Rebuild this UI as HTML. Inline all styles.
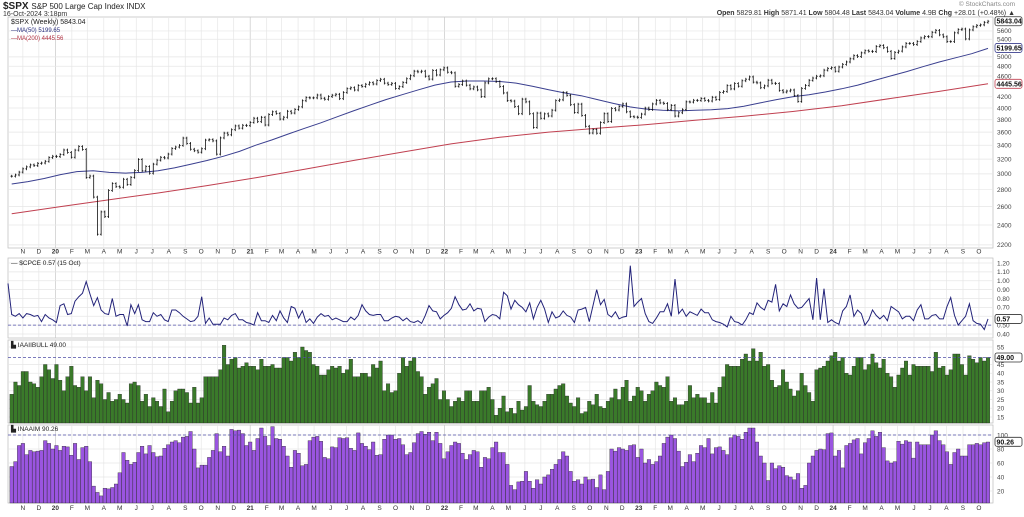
<!DOCTYPE html>
<html><head><meta charset="utf-8"><style>
body{margin:0;background:#fff;width:1024px;height:512px;overflow:hidden;font-family:"Liberation Sans",sans-serif}
svg text{font-family:"Liberation Sans",sans-serif}
</style></head><body>
<svg id="c" width="1024" height="512" viewBox="0 0 1024 512" xmlns="http://www.w3.org/2000/svg">
<text x="3" y="9" font-size="10" font-weight="bold" fill="#222">$SPX <tspan font-weight="normal" font-size="8">S&amp;P 500 Large Cap Index INDX</tspan></text>
<text x="3" y="16" font-size="7" fill="#333">16-Oct-2024 3:18pm</text>
<text x="1015" y="6" font-size="6.5" fill="#888" text-anchor="end">© StockCharts.com</text>
<text x="1015" y="15" font-size="7" fill="#333" text-anchor="end"><tspan font-weight="bold">Open</tspan> 5829.81 <tspan font-weight="bold">High</tspan> 5871.41 <tspan font-weight="bold">Low</tspan> 5804.48 <tspan font-weight="bold">Last</tspan> 5843.04 <tspan font-weight="bold">Volume</tspan> 4.9B <tspan font-weight="bold">Chg</tspan> +28.01 (+0.48%) ▲</text>
<g id="grid"></g><g id="marks"></g><g id="labels"></g>
</svg>
<script>
const spxClose=[2970,2986,3023,3067,3093,3120,3110,3141,3146,3169,3221,3240,
3235,3265,3330,3295,3226,3328,3380,3338,2954,2972,2711,2305,2541,2489,2790,2875,2837,2830,2930,2864,2955,3044,3194,3041,3097,3009,3130,3185,3225,3216,3271,3351,3373,3397,3508,3427,3341,3319,3298,3348,3477,3484,3465,3270,3510,3585,3558,3638,3699,3663,3709,3703,3756,
3825,3768,3841,3714,3887,3934,3907,3811,3842,3943,3913,3975,4020,4129,4185,4180,4181,4233,4174,4156,4204,4230,4247,4166,4281,4352,4370,4327,4412,4395,4437,4468,4442,4509,4535,4459,4433,4455,4357,4391,4471,4545,4605,4698,4683,4698,4595,4538,4712,4621,4726,4766,
4677,4663,4398,4432,4501,4419,4349,4385,4329,4204,4463,4543,4546,4488,4393,4272,4132,4123,4024,3901,4158,4109,3901,3675,3912,3825,3899,3863,3962,4130,4145,4280,4228,4058,3924,4068,3873,3693,3586,3640,3583,3753,3901,3771,3993,3965,4026,4072,3934,3852,3845,3840,
3895,3999,3973,4071,4136,4090,4079,3970,4046,3862,3917,3971,4109,4105,4137,4133,4169,4136,4124,4192,4151,4282,4299,4410,4348,4450,4399,4505,4536,4582,4478,4464,4370,4406,4516,4457,4450,4320,4288,4308,4327,4224,4117,4358,4415,4514,4559,4595,4604,4719,4755,4770,
4697,4784,4840,4891,4959,5027,5006,5089,5137,5124,5117,5234,5254,5204,5123,4967,5100,5128,5223,5303,5305,5278,5347,5432,5465,5460,5567,5615,5505,5459,5346,5344,5554,5634,5648,5408,5626,5703,5738,5751,5815,5843];
const ma50=[2870,2900,2940,2990,3030,3040,3020,3010,3020,3040,3080,3130,3180,3240,3310,3400,3480,3570,3660,3750,3850,3950,4050,4150,4240,4330,4420,4480,4500,4500,4490,4460,4400,4330,4270,4220,4150,4080,4020,3980,3960,3950,3960,3970,3990,4030,4090,4150,4200,4240,4290,4350,4420,4510,4600,4690,4790,4890,4980,5070,5190];
const ma200=[2520,2600,2680,2760,2850,2950,3060,3180,3300,3420,3520,3600,3660,3720,3790,3860,3940,4040,4170,4300,4445];
const cpce=[0.97,0.62,0.60,0.63,0.58,0.63,0.62,0.60,0.61,0.54,0.62,0.58,
0.56,0.53,0.72,0.74,0.62,0.63,0.77,0.82,0.86,0.99,0.85,0.72,0.81,0.67,0.63,0.62,0.80,0.60,0.62,0.62,0.49,0.73,0.63,0.73,0.56,0.54,0.54,0.64,0.60,0.62,0.56,0.54,0.67,0.67,0.64,0.60,0.57,0.54,0.55,0.60,0.82,0.52,0.58,0.51,0.51,0.51,0.58,0.56,0.61,0.63,0.56,0.56,0.53,
0.52,0.50,0.64,0.55,0.55,0.53,0.61,0.55,0.66,0.58,0.53,0.71,0.69,0.58,0.66,0.53,0.57,0.52,0.59,0.63,0.60,0.61,0.56,0.58,0.56,0.54,0.54,0.59,0.56,0.61,0.73,0.66,0.62,0.61,0.62,0.62,0.55,0.55,0.58,0.60,0.59,0.55,0.58,0.54,0.53,0.55,0.52,0.61,0.72,0.66,0.65,0.57,
0.61,0.64,0.69,0.82,0.73,0.67,0.68,0.74,0.66,0.69,0.68,0.54,0.59,0.62,0.61,0.57,0.87,0.83,0.68,0.78,0.73,0.70,0.65,0.75,0.57,0.70,0.78,0.68,0.53,0.65,0.58,0.60,0.66,0.61,0.59,0.53,0.67,0.68,0.70,0.54,0.72,0.90,0.73,0.79,0.62,0.59,0.65,0.57,0.59,0.60,1.17,0.71,
0.76,0.80,0.63,0.54,0.52,0.58,0.65,0.65,0.74,0.60,1.02,0.63,0.68,0.60,0.65,0.63,0.61,0.68,0.64,0.64,0.56,0.54,0.53,0.51,0.48,0.60,0.54,0.53,0.50,0.56,0.64,0.62,0.75,0.70,0.67,0.78,0.76,0.96,0.66,0.74,0.71,0.84,0.74,0.69,0.70,0.75,0.80,0.56,1.03,0.56,
0.91,0.53,0.56,0.53,0.51,0.66,0.71,0.84,0.60,0.67,0.63,0.50,0.56,0.67,0.61,0.57,0.61,0.55,0.71,0.68,0.65,0.57,0.60,0.60,0.55,0.67,0.73,0.57,0.57,0.61,0.62,0.57,0.57,0.71,0.81,0.61,0.50,0.55,0.60,0.74,0.55,0.52,0.51,0.45,0.57];
const aaii=[28,35,33,41,41,35,34,32,38,45,42,37,
45,36,30,38,44,33,32,38,30,38,26,36,34,25,29,24,25,28,25,23,34,35,33,24,28,21,26,24,21,31,18,24,30,31,31,29,23,32,23,26,38,38,38,38,42,56,45,48,49,43,44,46,44,
44,42,48,44,44,45,43,43,49,49,47,52,49,55,53,52,45,44,39,39,42,44,43,44,40,42,48,38,38,40,40,38,45,43,47,30,34,29,30,40,49,44,47,49,41,38,28,32,34,37,25,30,
25,21,24,26,24,30,30,24,24,30,30,32,25,16,20,27,18,20,17,24,19,21,33,24,22,21,24,28,28,31,33,34,27,23,21,26,17,18,24,22,28,21,20,24,26,31,25,32,36,24,27,32,
30,24,28,30,35,33,32,38,24,26,22,22,24,33,26,28,26,26,23,29,23,32,38,45,44,44,44,48,51,47,54,47,52,44,45,36,32,33,42,35,31,27,30,40,33,29,24,42,43,44,47,50,
52,47,49,40,39,44,49,49,42,45,51,46,43,48,40,38,32,39,43,47,39,45,44,44,44,44,41,52,43,44,39,42,51,51,45,39,50,48,46,49,47,49];
const naaim=[55,62,85,88,72,78,76,77,78,92,88,80,85,78,
84,83,71,88,65,82,84,62,27,18,13,24,23,25,30,46,75,64,58,61,75,84,73,85,75,69,70,81,86,90,92,89,97,98,105,80,53,57,57,68,78,102,76,84,70,108,106,107,102,85,90,78,95,
110,98,85,112,95,94,84,70,54,78,74,56,58,92,97,98,91,68,66,83,82,96,95,96,81,78,103,88,84,79,90,71,72,94,100,100,94,95,86,72,75,89,102,105,101,104,92,104,88,66,76,85,
90,88,74,65,72,78,76,54,68,66,82,90,75,75,58,28,22,33,34,48,34,24,36,30,40,43,51,58,65,76,70,48,34,36,30,40,36,37,25,43,22,48,80,77,82,80,78,85,86,68,80,
60,65,58,62,70,88,97,100,95,77,55,61,72,62,74,85,82,95,73,82,83,78,72,96,100,98,94,104,110,110,90,70,60,35,60,52,56,54,42,40,36,45,24,28,60,70,78,80,79,102,103,
70,78,53,85,88,93,95,73,89,95,106,98,104,82,63,60,62,91,87,92,90,67,90,86,86,86,100,106,92,86,76,58,75,80,70,70,86,86,88,86,89,90];
const monthLabels=['N','D','20','F','M','A','M','J','J','A','S','O','N','D','21','F','M','A','M','J','J','A','S','O','N','D','22','F','M','A','M','J','J','A','S','O','N','D','23','F','M','A','M','J','J','A','S','O','N','D','24','F','M','A','M','J','J','A','S','O'];
const spxTicks=[5600,5400,5000,4800,4600,4200,4000,3800,3600,3400,3200,3000,2800,2600,2400,2200];
const cpceTicks=[1.2,1.1,1.0,0.9,0.8,0.7,0.6,0.5,0.4];
const aaiiTicks=[55,45,40,35,30,25,20,15];
const naaimTicks=[100,80,60,40,20];

const NS='http://www.w3.org/2000/svg';
const svg=document.getElementById('c'),G=document.getElementById('grid'),M=document.getElementById('marks'),L=document.getElementById('labels');
function mk(t,a,p){const e=document.createElementNS(NS,t);for(const k in a)e.setAttribute(k,a[k]);(p||M).appendChild(e);return e;}
const N=spxClose.length, X0=11.7, DX=(988-X0)/(N-1), L0=8, R0=993;
const xw=i=>X0+DX*i;
const xEnd=(arr,i)=>xw(N-arr.length+i);
const yS=v=>108-229*Math.log(v/4000);
const yC=v=>334-(v-0.4)*88.75;
const yA=v=>417-(v-15)*1.75;
const yN=v=>491-(v-20)*0.70;
const panels=[[17,248],[258,338],[340,423],[425,503]];
// panel frames
panels.forEach((p,k)=>{const r=mk('rect',{x:L0,y:p[0],width:R0-L0,height:p[1]-p[0],fill:'#fff',stroke:'#bbb','stroke-width':0.7},G);

});
// months
const start=new Date(2019,9,11);
monthLabels.forEach((lab,m)=>{const d=new Date(2019,10+m,1);const days=(d-start)/864e5;const x=X0+DX*days/7;
panels.forEach(p=>{const ln=mk('line',{x1:x,x2:x,y1:p[0],y2:p[1],stroke:lab.length>1?'#c8c8c8':'#e6e6e6','stroke-width':0.7},G);

});
[253.5,510].forEach(yy=>{const t=mk('text',{x:x,y:yy,'font-size':6.5,'text-anchor':'middle',fill:'#333','font-weight':lab.length>1?'bold':'normal'},L);t.textContent=lab;

});});
function hticks(ticks,fy,p,fmt,nm){ticks.forEach(v=>{const y=fy(v);const ln=mk('line',{x1:L0,x2:R0,y1:y,y2:y,stroke:'#e6e6e6','stroke-width':0.7},G);


const t=mk('text',{x:997,y:y+2.3,'font-size':6.5,fill:'#444'},L);t.textContent=fmt(v);

});}
hticks(spxTicks,yS,0,v=>v,'spx-y');
hticks(cpceTicks,yC,1,v=>v.toFixed(2),'cpce-y');
hticks(aaiiTicks,yA,2,v=>v,'aaii-y');
hticks(naaimTicks,yN,3,v=>v,'naaim-y');
// MA lines
function monthlyLine(arr,color,nm){const pts=arr.map((v,i)=>{const step=(N-1)/(arr.length-1);return (X0+DX*i*step).toFixed(1)+','+yS(v).toFixed(1);}).join(' ');
const e=mk('polyline',{points:pts,fill:'none',stroke:color,'stroke-width':1});

}
monthlyLine(ma200,'#c04050','ma200-line');
monthlyLine(ma50,'#3a3f8f','ma50-line');
// price bars
spxClose.forEach((c,i)=>{const p=i?spxClose[i-1]:c;const hi=Math.max(p,c)*1.006,lo=Math.min(p,c)*0.994;const x=xw(i);
const g=mk('g',{stroke:'#111','stroke-width':0.8});


mk('line',{x1:x,x2:x,y1:yS(hi),y2:yS(lo)},g);mk('line',{x1:x-1.2,x2:x,y1:yS(p),y2:yS(p)},g);mk('line',{x1:x,x2:x+1.2,y1:yS(c),y2:yS(c)},g);});
// CPCE
const dl=(y,nm)=>{const e=mk('line',{x1:L0,x2:R0,y1:y,y2:y,stroke:'#5050a8','stroke-width':0.8,'stroke-dasharray':'3,2'});

};
dl(yC(0.5),'cpce-reference-line');
const cp=mk('polyline',{points:cpce.map((v,i)=>xEnd(cpce,i).toFixed(1)+','+yC(v).toFixed(1)).join(' '),fill:'none',stroke:'#23237a','stroke-width':1});


// bars
function bars(arr,fy,bot,fill,nm){arr.forEach((v,i)=>{const x=xEnd(arr,i);const y=fy(v);
const r=mk('rect',{x:x-1.8,y:y,width:3.6,height:bot-y,fill:fill,stroke:'#222','stroke-width':0.35});

});}
bars(aaii,yA,423,'#3a7a2a','aaii-bull-bar');
dl(yA(49),'aaii-reference-line');
bars(naaim,yN,503,'#9a55e0','naaim-bar');
dl(yN(100),'naaim-reference-line');
// legends
function txt(x,y,s,col,nm,fs){const t=mk('text',{x:x,y:y,'font-size':fs||6.5,fill:col,'font-family':'Liberation Mono, monospace'},L);t.textContent=s;

}
txt(11,24,'$SPX (Weekly) 5843.04','#222','spx-legend',7);
txt(11,32,'—MA(50) 5199.65','#2a2f7f','ma50-legend',6);
txt(11,40,'—MA(200) 4445.56','#b03040','ma200-legend',6);
txt(11,265,'— $CPCE 0.57 (15 Oct)','#222','cpce-legend');
txt(11,347,'▙ IAAIIBULL 49.00','#222','aaii-legend');
txt(11,431,'▙ INAAIM 90.26','#222','naaim-legend');
// value boxes
function box(y,s,col,nm){const g=mk('g',{},L);


mk('rect',{x:995,y:y-4.5,width:27,height:9,fill:'#fff',stroke:col,'stroke-width':0.8,rx:2},g);
const t=mk('text',{x:996.5,y:y+2.5,'font-size':7,'font-weight':'bold',fill:'#111'},g);t.textContent=s;}
box(yS(5843),'5843.04','#333','last-price-box');
box(yS(5199.65),'5199.65','#3a3f8f','ma50-value-box');
box(yS(4445.56),'4445.56','#c04050','ma200-value-box');
box(yC(0.57),'0.57','#333','cpce-value-box');
box(yA(49),'49.00','#333','aaii-value-box');
box(yN(90.26),'90.26','#333','naaim-value-box');
</script>
</body></html>
